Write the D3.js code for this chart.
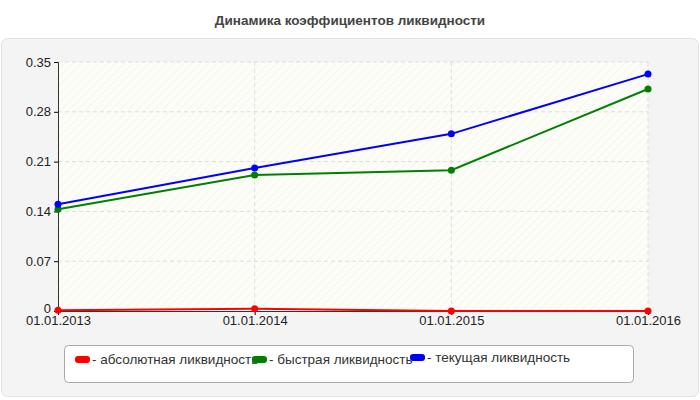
<!DOCTYPE html><html><head><meta charset="utf-8"><script src="https://cdn.jsdelivr.net/npm/d3@7"></script>
<style>body{margin:0;background:#fff;font-family:Arial,"Liberation Sans",sans-serif}</style></head><body><svg width="700" height="400"></svg>
<script>
const categories=["01.01.2013","01.01.2014","01.01.2015","01.01.2016"];
const absolute=[0.001,0.003,0.0,0.0];
const quick=[0.143,0.191,0.198,0.312];
const current=[0.150,0.201,0.249,0.333];
const yTicks=[0,0.07,0.14,0.21,0.28,0.35];
const seriesNames=["- абсолютная ликвидность","- быстрая ликвидность","- текущая ликвидность"];
const colors=["#ff0000","#008000","#0000ff"];
const svg=d3.select("svg");
const defs=svg.append("defs");
const pat=defs.append("pattern").attr("id","hatch").attr("width",6).attr("height",6).attr("patternUnits","userSpaceOnUse").attr("patternTransform","rotate(45)");
pat.append("rect").attr("width",6).attr("height",6).attr("fill","#fdfdf8");
pat.append("line").attr("x1",0).attr("y1",0).attr("x2",0).attr("y2",6).attr("stroke","#f0f0ea").attr("stroke-width",1);
svg.append("text").attr("x",350).attr("y",25).attr("text-anchor","middle").attr("font-size",13.5).attr("font-weight","bold").attr("fill","#444").text("Динамика коэффициентов ликвидности");
svg.append("rect").attr("x",1.5).attr("y",38.5).attr("width",697).attr("height",358).attr("rx",6).attr("fill","#f4f4f4").attr("stroke","#e2e2e2");
const x=d3.scalePoint().domain(categories).range([58,648]);
const y=d3.scaleLinear().domain([0,0.35]).range([311,62]);
svg.append("rect").attr("x",58).attr("y",62).attr("width",590).attr("height",249).attr("fill","url(#hatch)");
const g=svg.append("g");
yTicks.slice(1).forEach(t=>g.append("line").attr("x1",58).attr("x2",648).attr("y1",y(t)).attr("y2",y(t)).attr("stroke","#ddd").attr("stroke-dasharray","4,3"));
categories.slice(1).forEach(c=>g.append("line").attr("x1",x(c)).attr("x2",x(c)).attr("y1",62).attr("y2",311).attr("stroke","#ddd").attr("stroke-dasharray","4,3"));
svg.append("g").attr("transform","translate(58,0)").call(d3.axisLeft(y).tickValues(yTicks).tickSize(4).tickFormat(d=>d===0?"0":d3.format(".2f")(d)))
 .call(a=>a.selectAll("text").attr("font-size",13).attr("fill","#222").attr("font-family","Arial,Liberation Sans")).call(a=>a.select(".domain").attr("stroke","#333"))
 .call(a=>a.selectAll(".tick").filter(d=>d===0).select("text").attr("dy","0.1em"));
svg.append("g").attr("transform","translate(0,311)").call(d3.axisBottom(x).tickSize(4))
 .call(a=>a.selectAll("text").attr("font-size",13).attr("fill","#222").attr("font-family","Arial,Liberation Sans").attr("dy","0.55em")).call(a=>a.select(".domain").attr("stroke","#333"));
[absolute,quick,current].forEach((s,i)=>{
 const data=categories.map((c,j)=>[c,s[j]]);
 svg.append("path").datum(data).attr("fill","none").attr("stroke",colors[i]).attr("stroke-width",2).attr("d",d3.line().x(d=>x(d[0])).y(d=>y(d[1])));
 svg.selectAll(null).data(data).enter().append("circle").attr("cx",d=>x(d[0])).attr("cy",d=>y(d[1])).attr("r",3.5).attr("fill",colors[i]);
});
svg.append("rect").attr("x",64.5).attr("y",345.5).attr("width",569).attr("height",37).attr("rx",4).attr("fill","#fff").attr("stroke","#aaa");
const lx=[75,252,410];
seriesNames.forEach((n,i)=>{
 svg.append("rect").attr("x",lx[i]).attr("y",i==2?354:356).attr("width",15).attr("height",7).attr("rx",3).attr("fill",colors[i]);
 svg.append("text").attr("x",lx[i]+17).attr("y",i==2?362:364).attr("font-size",13.5).attr("fill","#333").text(n);
});
</script></body></html>
